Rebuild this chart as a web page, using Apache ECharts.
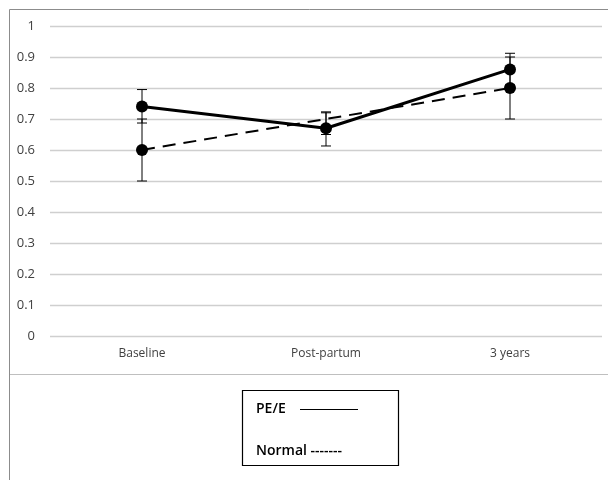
<!DOCTYPE html>
<html><head><meta charset="utf-8">
<script src="https://cdn.jsdelivr.net/npm/echarts@6/dist/echarts.min.js"></script>
<style>html,body{margin:0;padding:0;background:#fff}#c{width:608px;height:480px}</style>
</head><body><div id="c"></div>
<script>
const categories = ['Baseline', 'Post-partum', '3 years'];
const peValues = [0.74, 0.67, 0.86];
const peLow = [0.687, 0.613, 0.81];
const peHigh = [0.795, 0.723, 0.912];
const normalValues = [0.60, 0.70, 0.80];
const normalLow = [0.50, 0.65, 0.70];
const normalHigh = [0.70, 0.72, 0.90];
const yTicks = [0, 0.1, 0.2, 0.3, 0.4, 0.5, 0.6, 0.7, 0.8, 0.9, 1];

function errData(low, high) { return categories.map((c, i) => [i, low[i], high[i]]); }
function errRender(params, api) {
  const x = api.value(0);
  const lo = api.coord([x, api.value(1)]);
  const hi = api.coord([x, api.value(2)]);
  const w = 5;
  const st = { stroke: '#000', lineWidth: 1 };
  return { type: 'group', children: [
    { type: 'line', shape: { x1: lo[0], y1: lo[1], x2: hi[0], y2: hi[1] }, style: st },
    { type: 'line', shape: { x1: lo[0]-w, y1: lo[1], x2: lo[0]+w, y2: lo[1] }, style: st },
    { type: 'line', shape: { x1: hi[0]-w, y1: hi[1], x2: hi[0]+w, y2: hi[1] }, style: st }
  ]};
}
const chart = echarts.init(document.getElementById('c'), null, { renderer: 'canvas' });
chart.setOption({
  animation: false,
  backgroundColor: '#fff',
  grid: { left: 50, right: 6, top: 26, bottom: 144 },
  xAxis: {
    type: 'category', data: categories, boundaryGap: true,
    axisLine: { show: false }, axisTick: { show: false },
    axisLabel: { color: '#404040', fontSize: 12, fontFamily: 'Open Sans, sans-serif', margin: 12 }
  },
  yAxis: {
    type: 'value', min: 0, max: 1, interval: 0.1,
    axisLine: { show: false }, axisTick: { show: false },
    axisLabel: { color: '#404040', fontSize: 13, fontFamily: 'Open Sans, sans-serif', margin: 15,
      formatter: v => { const t = yTicks.find(k => Math.abs(k - v) < 1e-9); return t === undefined ? '' : String(t); } },
    splitLine: { lineStyle: { color: '#cfcfcf', width: 1.3 } }
  },
  series: [
    { name: 'Normal', type: 'line', data: normalValues, symbol: 'circle',
      symbolSize: (v, p) => p.dataIndex === 1 ? 0 : 12,
      lineStyle: { color: '#000', width: 2, type: [13, 8] }, itemStyle: { color: '#000' }, z: 3 },
    { name: 'PE/E', type: 'line', data: peValues, symbol: 'circle', symbolSize: 12,
      lineStyle: { color: '#000', width: 3 }, itemStyle: { color: '#000' }, z: 4 },
    { type: 'custom', renderItem: errRender, data: errData(normalLow, normalHigh), z: 5 },
    { type: 'custom', renderItem: errRender, data: errData(peLow, peHigh), z: 5 }
  ],
  graphic: [
    { type: 'rect', shape: { x: 9.5, y: 9.5, width: 700, height: 500 }, style: { fill: 'none', stroke: '#8c8c8c', lineWidth: 1 }, silent: true },
    { type: 'line', shape: { x1: 10, y1: 374.5, x2: 608, y2: 374.5 }, style: { stroke: '#bfbfbf', lineWidth: 1 } },
    { type: 'rect', shape: { x: 242.5, y: 390.5, width: 156, height: 75 }, style: { fill: '#fff', stroke: '#000', lineWidth: 1.2 } },
    { type: 'text', x: 256, y: 409, style: { text: 'PE/E', fill: '#000', font: '600 14px Open Sans, sans-serif', verticalAlign: 'middle' } },
    { type: 'line', shape: { x1: 300, y1: 409.5, x2: 358, y2: 409.5 }, style: { stroke: '#000', lineWidth: 1.2 } },
    { type: 'text', x: 256, y: 451, style: { text: 'Normal -------', fill: '#000', font: '600 14px Open Sans, sans-serif', verticalAlign: 'middle' } }
  ]
});
</script></body></html>
